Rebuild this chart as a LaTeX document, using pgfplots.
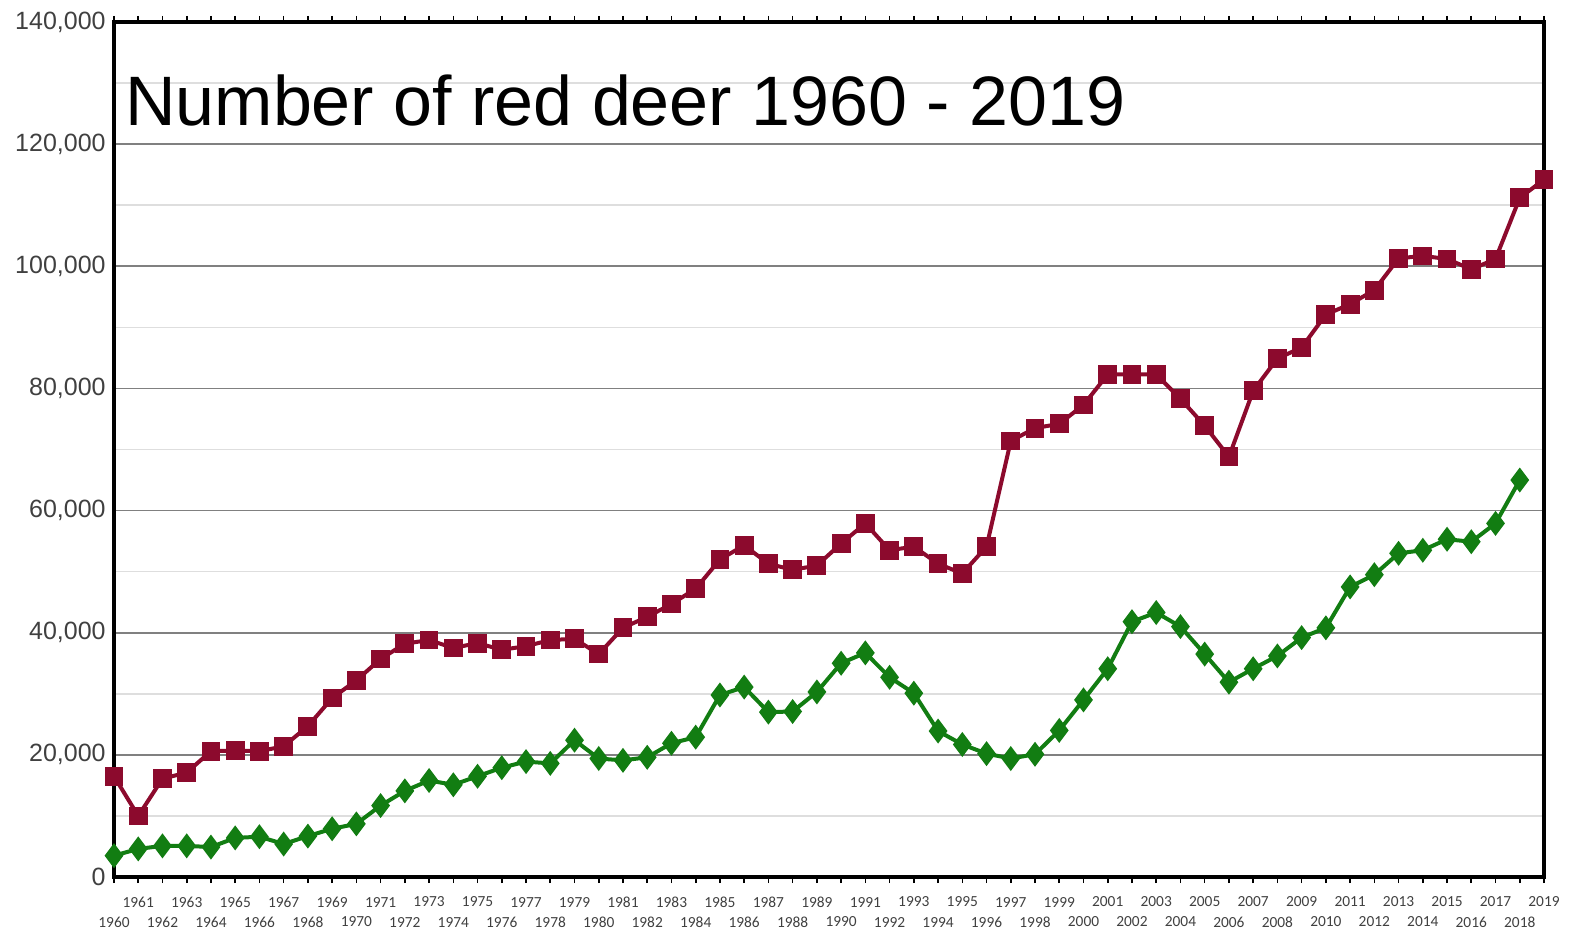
\documentclass[border=0pt]{standalone}
\usepackage{fontspec}
\setmainfont{Liberation Sans}
\newfontfamily\tickfont{Carlito}
\usepackage{pgfplots}
\pgfplotsset{compat=1.18}

\definecolor{deerred}{RGB}{140,10,45}
\definecolor{deergreen}{RGB}{18,125,18}
\definecolor{majgrid}{RGB}{128,128,128}
\definecolor{mingrid}{RGB}{222,222,222}
\definecolor{labgray}{RGB}{64,64,64}

\begin{document}
\begin{tikzpicture}
\begin{axis}[
    name=ax,
    scale only axis,
    width=715pt, height=427.5pt,
    xmin=1960, xmax=2019,
    ymin=0, ymax=140000,
    clip=false,
    axis line style={line width=2.2pt, black},
    ytick={0,20000,...,140000},
    minor y tick num=1,
    ymajorgrids=true, yminorgrids=true,
    major grid style={majgrid, line width=0.8pt},
    minor grid style={mingrid, line width=0.8pt},
    ytick style={draw=none},
    minor y tick style={draw=none},
    scaled y ticks=false,
    scaled x ticks=false,
    major tick length=3pt,
    /pgf/number format/assume math mode=true,
    /pgf/number format/fixed,
    yticklabel style={font=\fontsize{12.5}{14}\selectfont, text=labgray,
        /pgf/number format/1000 sep={,}, inner sep=1pt},
    xtick={1960,1962,...,2018},
    extra x ticks={1961,1963,...,2019},
    tick align=outside,
    xtick style={black, line width=0.8pt},
    xticklabel style={font=\tickfont\fontsize{7.7}{9}\selectfont, text=labgray,
        /pgf/number format/1000 sep={}, anchor=center, yshift=-19.5pt},
    extra x tick style={xmajorgrids=false,
        xticklabel style={yshift=10pt}},
]
\addplot[deerred, line width=2pt, mark=square*, mark size=3.7pt,
    mark options={solid, fill=deerred}] coordinates {
(1960,16500)(1961,10000)(1962,16100)(1963,17100)(1964,20600)(1965,20700)
(1966,20600)(1967,21400)(1968,24700)(1969,29300)(1970,32200)(1971,35700)
(1972,38200)(1973,38800)(1974,37500)(1975,38300)(1976,37200)(1977,37800)
(1978,38800)(1979,39000)(1980,36500)(1981,40800)(1982,42600)(1983,44700)
(1984,47200)(1985,52000)(1986,54300)(1987,51300)(1988,50300)(1989,51000)
(1990,54600)(1991,57900)(1992,53500)(1993,54100)(1994,51300)(1995,49700)
(1996,54100)(1997,71400)(1998,73500)(1999,74200)(2000,77300)(2001,82300)
(2002,82300)(2003,82300)(2004,78300)(2005,73900)(2006,68800)(2007,79600)
(2008,84900)(2009,86700)(2010,92100)(2011,93800)(2012,96100)(2013,101300)
(2014,101700)(2015,101200)(2016,99500)(2017,101200)(2018,111200)(2019,114200)
};
\addplot[deergreen, line width=2pt, mark=diamond*, mark size=4.6pt,
    mark options={solid, fill=deergreen}] coordinates {
(1960,3500)(1961,4600)(1962,5100)(1963,5100)(1964,4900)(1965,6400)
(1966,6600)(1967,5400)(1968,6700)(1969,7900)(1970,8700)(1971,11700)
(1972,14100)(1973,15800)(1974,15100)(1975,16500)(1976,17900)(1977,18900)
(1978,18600)(1979,22400)(1980,19400)(1981,19100)(1982,19600)(1983,21900)
(1984,22900)(1985,29800)(1986,31100)(1987,27000)(1988,27100)(1989,30300)
(1990,35000)(1991,36700)(1992,32700)(1993,30100)(1994,23900)(1995,21700)
(1996,20200)(1997,19400)(1998,20100)(1999,24000)(2000,29000)(2001,34100)
(2002,41800)(2003,43300)(2004,41000)(2005,36500)(2006,31900)(2007,34100)
(2008,36200)(2009,39200)(2010,40800)(2011,47500)(2012,49500)(2013,53000)
(2014,53500)(2015,55300)(2016,54900)(2017,57900)(2018,65000)
};
\node[anchor=base west, font=\fontsize{35}{40}\selectfont, inner sep=0pt]
    at (axis cs:1960.45,123000) {Number of red deer 1960 - 2019};
\end{axis}
\pgfresetboundingbox
\path ([xshift=-57pt,yshift=-27.5pt]ax.south west) rectangle ([xshift=15.5pt,yshift=11pt]ax.north east);
\end{tikzpicture}
\end{document}
